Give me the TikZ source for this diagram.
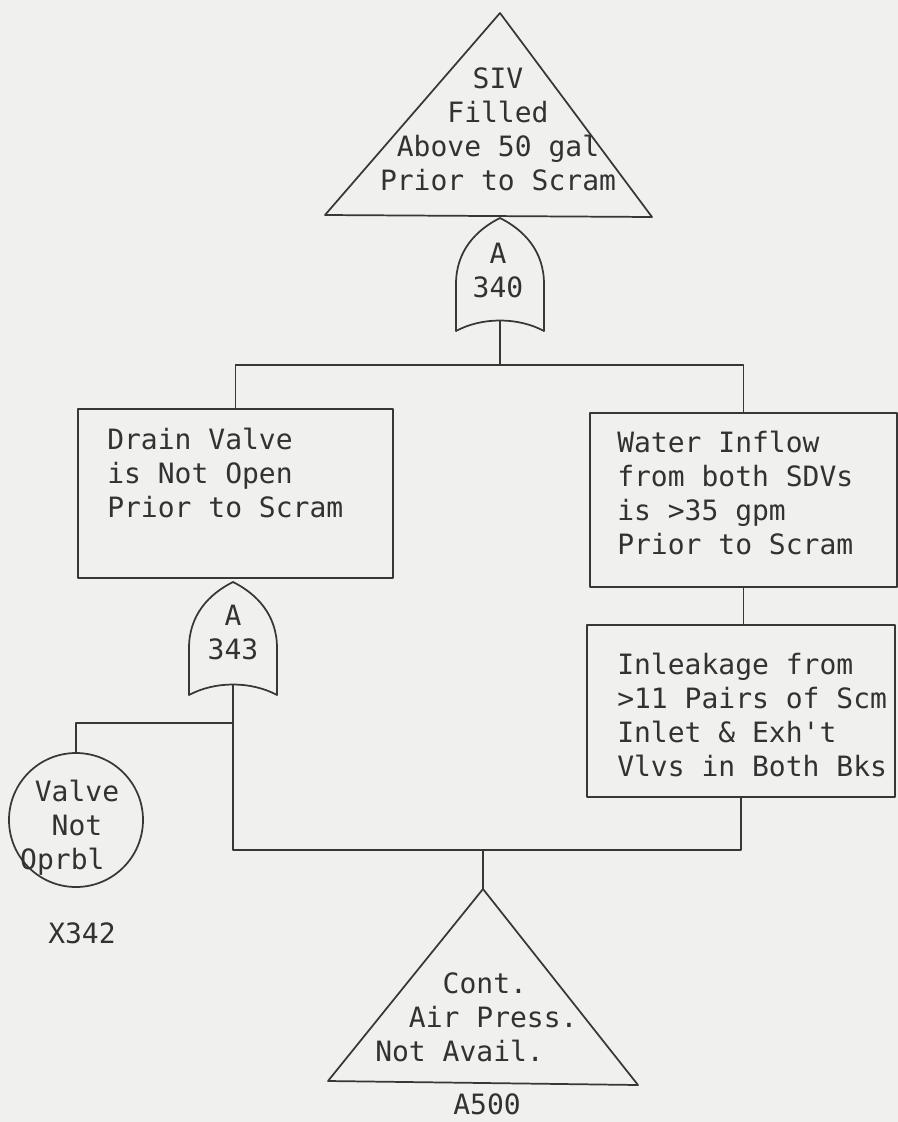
\documentclass[tikz,border=0pt]{standalone}
\usepackage{fontspec}
\setmonofont{DejaVu Sans Mono}
\definecolor{bgc}{RGB}{240,240,238}
\definecolor{linec}{RGB}{55,55,55}
\definecolor{textc}{RGB}{50,50,50}
\begin{document}
\begin{tikzpicture}[x=0.75pt,y=-0.75pt,
  ln/.style={draw=linec, line width=1.3pt, line join=round},
  txt/.style={text=textc, inner sep=0pt, font=\ttfamily\fontsize{21}{25.5}\selectfont},
  boxnode/.style={ln, rectangle, inner sep=0pt},
  gatepath/.style={ln}]
\fill[bgc] (0,0) rectangle (898,1122);
\useasboundingbox (0,0) rectangle (898,1122);

% top event triangle
\draw[ln] (500,13) -- (652,217) -- (325,215) -- cycle;
\node[txt, align=center] (siv) at (498,129) {SIV\\Filled\\Above 50 gal\\Prior to Scram};

% gate A340
\begin{scope}[shift={(500,218)}]
\draw[gatepath] (0,0) .. controls (-24,12) and (-44,33) .. (-44,66) -- (-44,113)
  .. controls (-18,99) and (18,99) .. (44,113) -- (44,66)
  .. controls (44,33) and (24,12) .. cycle;
\coordinate (g340bot) at (0,103);
\end{scope}
\node[txt, align=center] (g340) at (498,270) {A\\340};

% boxes
\node[boxnode, minimum width=236.25pt, minimum height=126.75pt] (drain) at (235.5,493.5) {};
\node[txt, align=left, anchor=west] (draintxt) at (107,473) {Drain Valve\\is Not Open\\Prior to Scram};

\node[boxnode, minimum width=230.25pt, minimum height=130.5pt] (water) at (743.5,500) {};
\node[txt, align=left, anchor=west] (watertxt) at (617,492.5) {Water Inflow\\from both SDVs\\is >35 gpm\\Prior to Scram};

\node[boxnode, minimum width=231pt, minimum height=129pt] (inleak) at (741,711) {};
\node[txt, align=left, anchor=west] (inleaktxt) at (617,715) {Inleakage from\\>11 Pairs of Scm\\Inlet \& Exh't\\Vlvs in Both Bks};

% gate A343
\begin{scope}[shift={(233,582)}]
\draw[gatepath] (0,0) .. controls (-24,12) and (-44,33) .. (-44,66) -- (-44,113)
  .. controls (-18,99) and (18,99) .. (44,113) -- (44,66)
  .. controls (44,33) and (24,12) .. cycle;
\coordinate (g343bot) at (0,103);
\end{scope}
\node[txt, align=center] (g343) at (233,632) {A\\343};

% basic event circle
\node[ln, circle, inner sep=0pt, minimum size=100.5pt] (valve) at (76,820) {};
\node[txt, align=center] (valvetxt) at (77,828) {Valve\\Not\\\hspace*{-22pt}Oprbl};
\node[txt] (x342) at (82,933) {X342};

% bottom triangle
\draw[ln] (483,889) -- (638,1085) -- (328,1081) -- cycle;
\coordinate (a500apex) at (483,889);
\node[txt, align=left, anchor=west] (conttxt) at (375,1017.5) {\phantom{Cont}Cont.\\\phantom{Ai}Air Press.\\Not Avail.};
\node[txt] (a500) at (487,1104) {A500};

% connectors
\coordinate (bar1) at (500,365);
\coordinate (bar2) at (483,850);
\coordinate (j1) at (233,723);
\draw[ln] (g340bot) -- (bar1);
\draw[ln] (bar1) -| (drain.north);
\draw[ln] (bar1) -| (water.north);
\draw[ln] (water.south) -- (water.south |- inleak.north);
\draw[ln] (g343bot) |- (bar2);
\draw[ln] (bar2) -| (inleak.south);
\draw[ln] (bar2) -- (a500apex);
\draw[ln] (j1) -| (valve.north);
\end{tikzpicture}
\end{document}
